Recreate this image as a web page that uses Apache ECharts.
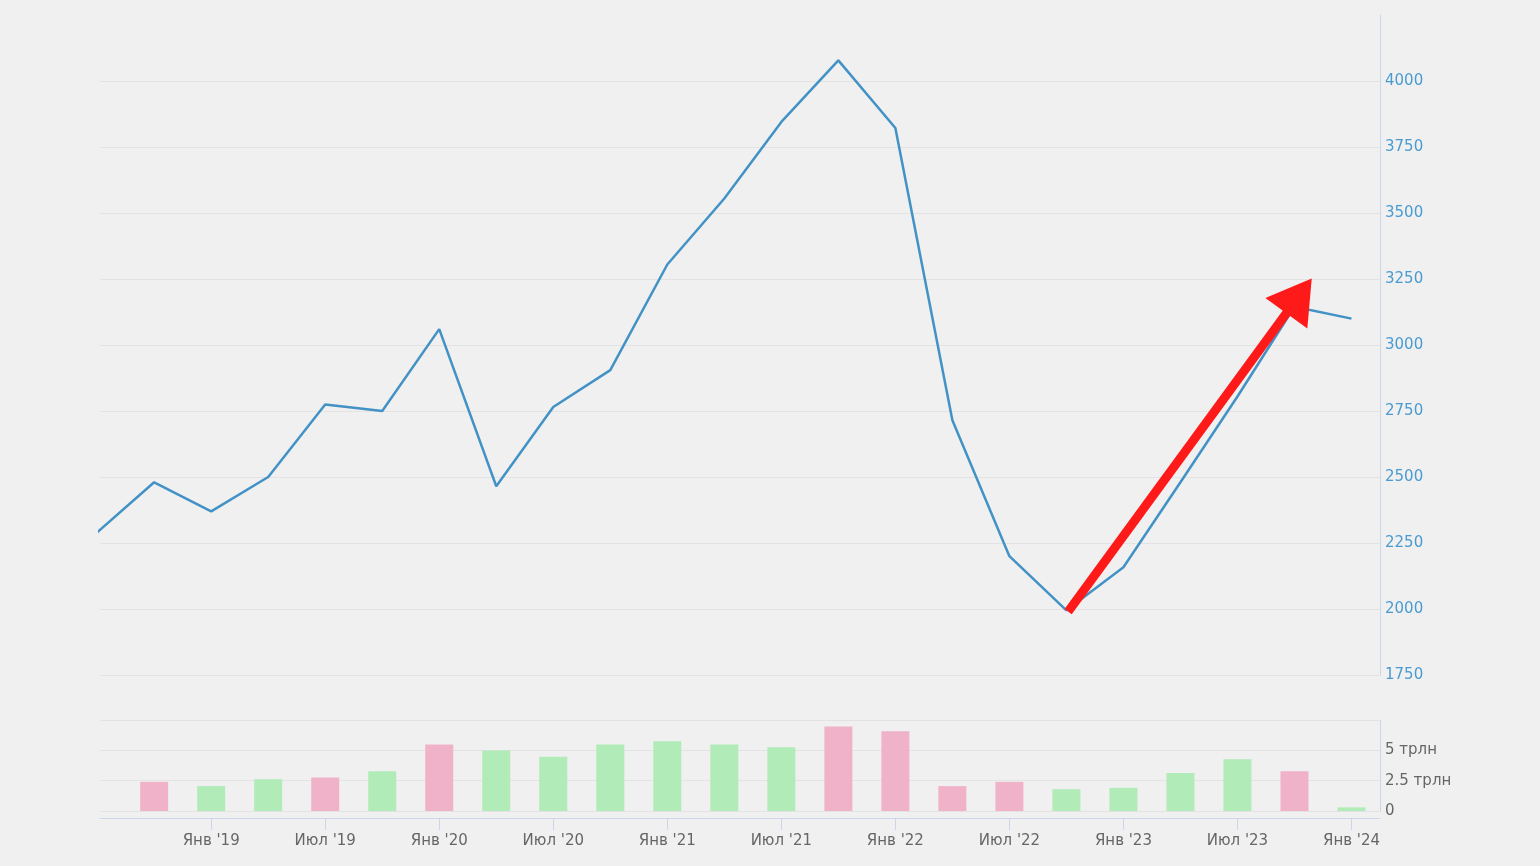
<!DOCTYPE html>
<html>
<head>
<meta charset="utf-8">
<script src="https://cdn.jsdelivr.net/npm/echarts@6/dist/echarts.min.js"></script>
<style>
html,body{margin:0;padding:0;background:#f0f0f0;}
#c{width:1540px;height:866px;}
</style>
</head>
<body>
<div id="c"></div>
<script>
// Quarters (index 0 = Jul '18 ... index 22 = Jan '24)
const quarters = ["Июл '18","Окт '18","Янв '19","Апр '19","Июл '19","Окт '19","Янв '20","Апр '20","Июл '20","Окт '20","Янв '21","Апр '21","Июл '21","Окт '21","Янв '22","Апр '22","Июл '22","Окт '22","Янв '23","Апр '23","Июл '23","Окт '23","Янв '24"];
// Price line
const priceValues = [2290,2480,2370,2500,2775,2750,3060,2465,2765,2905,3305,3555,3845,4078,3822,2715,2200,1995,2158,2480,2805,3145,3100];
// Volume bars (трлн); sign: negative = pink, positive = green
const volumeValues = [null,-2.4,2.05,2.62,-2.76,3.28,-5.49,4.98,4.48,5.49,5.74,5.49,5.25,-6.97,-6.58,-2.05,-2.4,1.8,1.91,3.14,4.26,-3.28,0.3];
// X tick labels
const tickIndex = [2,4,6,8,10,12,14,16,18,20,22];
const tickLabels = ["Янв '19","Июл '19","Янв '20","Июл '20","Янв '21","Июл '21","Янв '22","Июл '22","Янв '23","Июл '23","Янв '24"];
// Price axis ticks
const priceTicks = [1750,2000,2250,2500,2750,3000,3250,3500,3750,4000];
// Arrow annotation (index, value)
const arrowFrom = [17.03, 1990];
const arrowTo = [21.08, 3186];

const FONT = 'DejaVu Sans';
const chart = echarts.init(document.getElementById('c'));
const linePts = priceValues.map((v,i)=>[i,v]);
const barPts = volumeValues.map((v,i)=>{
  if (v === null) return [i, null];
  return {value:[i, Math.abs(v)], itemStyle:{color: v < 0 ? '#f0b2c8' : '#b0ebb8'}};
});

chart.setOption({
  backgroundColor:'#f0f0f0',
  animation:false,
  grid:[
    {left:100, right:160, top:15, height:660},
    {left:100, right:160, top:720, height:91}
  ],
  xAxis:[
    {type:'value', gridIndex:0, min:0.05, max:22.5,
     axisLine:{show:false}, axisTick:{show:false}, axisLabel:{show:false}, splitLine:{show:false}},
    {type:'value', gridIndex:1, min:0.05, max:22.5, offset:7,
     axisLine:{show:true, onZero:false, lineStyle:{color:'#ccd6eb', width:1}},
     axisTick:{show:true, customValues:tickIndex, length:12, lineStyle:{color:'#ccd6eb'}},
     axisLabel:{show:true, customValues:tickIndex, margin:16, color:'#666666', fontSize:15, fontFamily:FONT,
       formatter:function(v){ const k = tickIndex.indexOf(Math.round(v)); return k>=0 ? tickLabels[k] : ''; }},
     splitLine:{show:false}}
  ],
  yAxis:[
    {type:'value', gridIndex:0, position:'right', min:1750, max:4250,
     axisLine:{show:true, lineStyle:{color:'#ccd6eb', width:1}},
     axisTick:{show:false, customValues:priceTicks},
     axisLabel:{show:true, customValues:priceTicks, margin:5, color:'#4a9bd1', fontSize:15, fontFamily:FONT,
       formatter:function(v){ return String(v); }},
     splitLine:{show:true, lineStyle:{color:'#e3e3e3', width:1}}},
    {type:'value', gridIndex:1, position:'right', min:0, max:7.5, interval:2.5,
     axisLine:{show:true, lineStyle:{color:'#ccd6eb', width:1}},
     axisTick:{show:false},
     axisLabel:{show:true, showMaxLabel:false, margin:5, color:'#666666', fontSize:15, fontFamily:FONT,
       formatter:function(v){ return v===0 ? '0' : (v + ' трлн'); }},
     splitLine:{show:true, lineStyle:{color:'#e3e3e3', width:1}}}
  ],
  series:[
    {type:'line', xAxisIndex:0, yAxisIndex:0, data:linePts, showSymbol:false, symbol:'none',
     lineStyle:{color:'#4292c6', width:2.5}, itemStyle:{color:'#4292c6'}, clip:true, z:3,
     markLine:{silent:true, symbol:['none','triangle'], symbolSize:46,
       label:{show:false}, emphasis:{disabled:true},
       lineStyle:{color:'#ff1a1a', width:9, type:'solid'},
       data:[[{coord:arrowFrom, symbol:'none'},{coord:arrowTo, symbol:'triangle', symbolSize:[52,43]}]]}},
    {type:'bar', xAxisIndex:1, yAxisIndex:1, data:barPts, barWidth:28}
  ]
});
</script>
</body>
</html>
